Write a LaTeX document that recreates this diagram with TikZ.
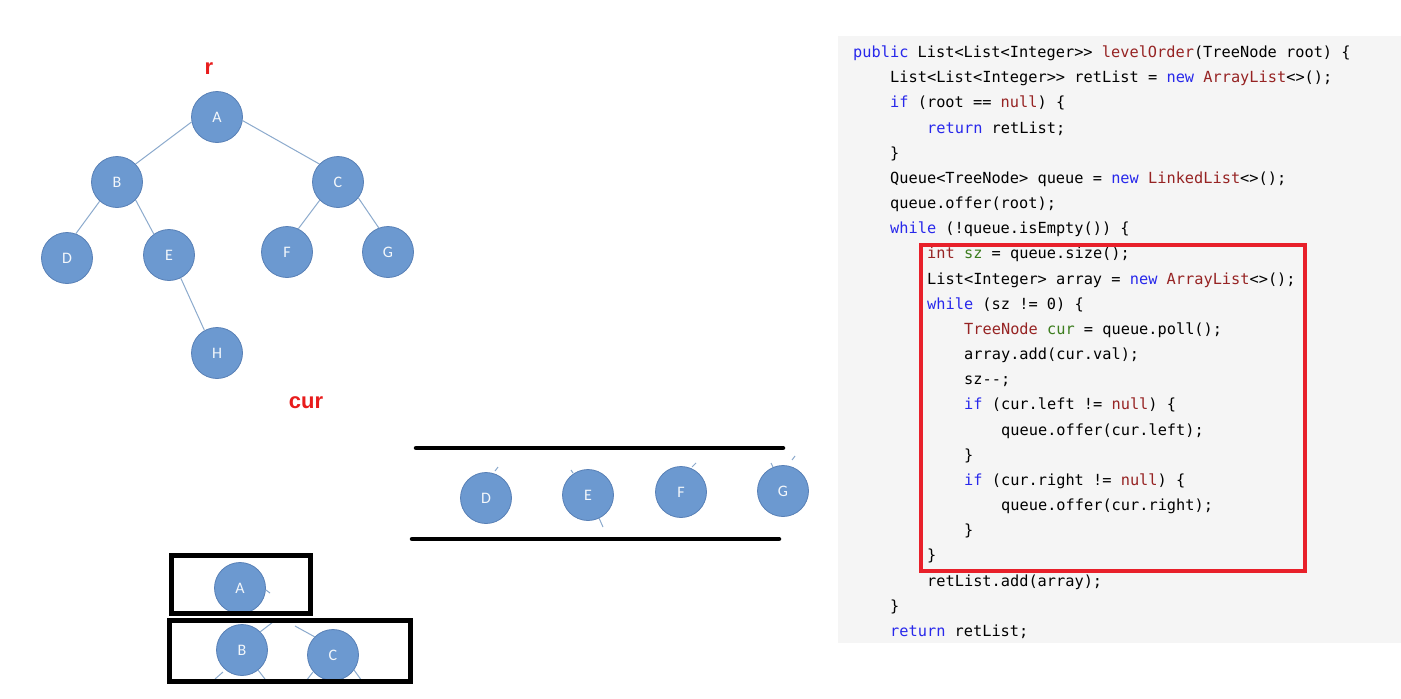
\documentclass[tikz,border=0pt]{standalone}
\usepackage{fontspec}
\newfontfamily\codefont{DejaVu Sans Mono}
\newfontfamily\lblfont{Carlito}
\newfontfamily\redfont{Liberation Sans}
\definecolor{kwblue}{RGB}{40,40,235}
\definecolor{tyred}{RGB}{150,35,35}
\definecolor{vargreen}{RGB}{60,125,30}
\definecolor{nodefill}{RGB}{108,153,208}
\definecolor{nodeline}{RGB}{88,128,182}
\definecolor{edgecol}{RGB}{140,170,205}
\definecolor{panel}{RGB}{245,245,245}
\definecolor{boxred}{RGB}{232,32,42}
\definecolor{lblred}{RGB}{232,28,28}
\newcommand\cb[1]{\textcolor{kwblue}{#1}}
\newcommand\crd[1]{\textcolor{tyred}{#1}}
\newcommand\cg[1]{\textcolor{vargreen}{#1}}
\tikzset{
  tnode/.style={circle, minimum size=51pt, inner sep=0pt, fill=nodefill, draw=nodeline, line width=0.8pt,
    text=white!92!nodefill, font=\lblfont\fontsize{16}{18}\selectfont},
  tedge/.style={draw=edgecol, line width=1pt},
  stub/.style={draw=edgecol, line width=1pt},
  code/.style={anchor=base west, inner sep=0pt, font=\codefont\fontsize{15.3}{18}\selectfont},
  redlbl/.style={text=lblred, inner sep=0pt, font=\redfont\bfseries\fontsize{22}{24}\selectfont},
  thickbar/.style={line width=4.5pt, line cap=round},
  framebox/.style={draw=black, line width=5pt}
}
\begin{document}
\begin{tikzpicture}[x=1pt, y=-1pt]
\useasboundingbox (0,0) rectangle (1401,699);
\fill[white] (0,0) rectangle (1401,699);

% ---------- tree ----------
\node[redlbl] (rl) at (209,69) {r};
\node[tnode] (A) at (217,117) {A};
\node[tnode] (B) at (117,182) {B};
\node[tnode] (C) at (338,182) {C};
\node[tnode] (D) at (67,258) {D};
\node[tnode] (E) at (169,255) {E};
\node[tnode] (F) at (287,252) {F};
\node[tnode] (G) at (388,252) {G};
\node[tnode] (H) at (217,353) {H};
\draw[tedge] (A.191) -- (B.44);
\draw[tedge] (A.352) -- (C.136);
\draw[tedge] (B.228) -- (D.70);
\draw[tedge] (B.316) -- (E.126);
\draw[tedge] (C.225) -- (F.64);
\draw[tedge] (C.322) -- (G.111);
\draw[tedge] (E.297) -- (H.119);

\node[redlbl] (curl) at (306,403) {cur};

% ---------- queue ----------
\coordinate (qt1) at (416,448); \coordinate (qt2) at (783,448);
\coordinate (qb1) at (412,539); \coordinate (qb2) at (779,539);
\draw[thickbar] (qt1) -- (qt2);
\draw[thickbar] (qb1) -- (qb2);
\node[tnode] (qD) at (486,498) {D};
\node[tnode] (qE) at (588,495) {E};
\node[tnode] (qF) at (681,492) {F};
\node[tnode] (qG) at (783,491) {G};
\draw[stub] (495,471) -- (498,467);
\draw[stub] (571,470) -- (573,473);
\draw[stub] (599,518) -- (603,527);
\draw[stub] (692,467) -- (696,463);
\draw[stub] (771,463) -- (773,467);
\draw[stub] (792,460) -- (795,456);

% ---------- level boxes ----------
\node[tnode] (bA) at (240,588) {A};
\draw[stub] (266,590) -- (270,593);
\draw[framebox] (171.5,555.5) rectangle (310.5,613.5);
\node[tnode] (bB) at (242,650) {B};
\node[tnode] (bC) at (333,655) {C};
\draw[stub] (260,632) -- (273,622);
\draw[stub] (315,637) -- (295,626);
\draw[stub] (223,672) -- (215,679);
\draw[stub] (258,670) -- (265,679);
\draw[stub] (313,672) -- (306,681);
\draw[stub] (354,670) -- (362,681);
\draw[framebox] (169.5,620.5) rectangle (410.5,681.5);

% ---------- code panel ----------
\fill[panel] (838,36) rectangle (1401,643);
\node[code] (l1) at (853,57.5) {\cb{public} List<List<Integer>{}> \crd{levelOrder}(TreeNode root) \{};
\node[code] (l2) at (890,82.7) {List<List<Integer>{}> retList = \cb{new} \crd{ArrayList}<>();};
\node[code] (l3) at (890,107.8) {\cb{if} (root == \crd{null}) \{};
\node[code] (l4) at (927,133.0) {\cb{return} retList;};
\node[code] (l5) at (890,158.2) {\}};
\node[code] (l6) at (890,183.4) {Queue<TreeNode> queue = \cb{new} \crd{LinkedList}<>();};
\node[code] (l7) at (890,208.5) {queue.offer(root);};
\node[code] (l8) at (890,233.7) {\cb{while} (!queue.isEmpty()) \{};
\node[code] (l9) at (927,258.9) {\crd{int} \cg{sz} = queue.size();};
\node[code] (l10) at (927,284.0) {List<Integer> array = \cb{new} \crd{ArrayList}<>();};
\node[code] (l11) at (927,309.2) {\cb{while} (sz != 0) \{};
\node[code] (l12) at (964,334.4) {\crd{TreeNode} \cg{cur} = queue.poll();};
\node[code] (l13) at (964,359.5) {array.add(cur.val);};
\node[code] (l14) at (964,384.7) {sz-{}-;};
\node[code] (l15) at (964,409.9) {\cb{if} (cur.left != \crd{null}) \{};
\node[code] (l16) at (1001,435.1) {queue.offer(cur.left);};
\node[code] (l17) at (964,460.2) {\}};
\node[code] (l18) at (964,485.4) {\cb{if} (cur.right != \crd{null}) \{};
\node[code] (l19) at (1001,510.6) {queue.offer(cur.right);};
\node[code] (l20) at (964,535.7) {\}};
\node[code] (l21) at (927,560.9) {\}};
\node[code] (l22) at (927,586.1) {retList.add(array);};
\node[code] (l23) at (890,611.2) {\}};
\node[code] (l24) at (890,636.4) {\cb{return} retList;};
\draw[draw=boxred, line width=4pt] (921,245) rectangle (1305,571);
\end{tikzpicture}
\end{document}
